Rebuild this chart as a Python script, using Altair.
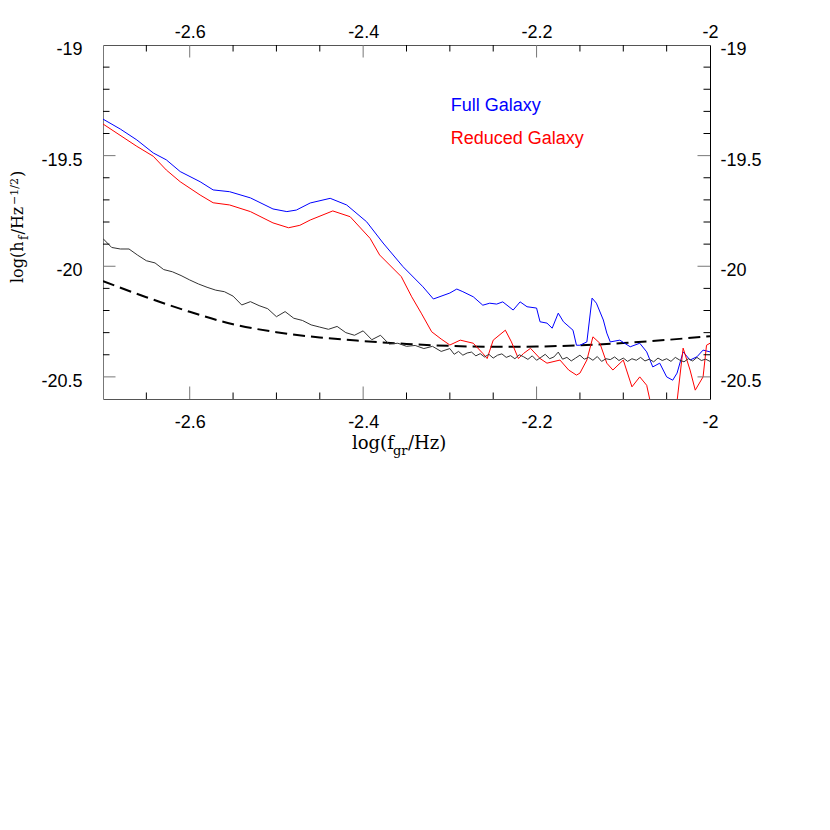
import altair as alt
import pandas as pd

# ---------------- data ----------------
full_x = [-2.700, -2.680, -2.661, -2.642, -2.627, -2.611, -2.588, -2.573, -2.554, -2.530,
          -2.504, -2.488, -2.477, -2.461, -2.438, -2.419, -2.396, -2.377, -2.354, -2.331,
          -2.319, -2.300, -2.292, -2.285, -2.273, -2.262, -2.254, -2.246, -2.239, -2.227,
          -2.219, -2.211, -2.200, -2.196, -2.188, -2.182, -2.175, -2.169, -2.158, -2.154,
          -2.150, -2.142, -2.136, -2.131, -2.123, -2.119, -2.115, -2.104, -2.092, -2.081,
          -2.073, -2.066, -2.058, -2.050, -2.043, -2.038, -2.031, -2.023, -2.015, -2.008,
          -2.000]
full_y = [-19.335, -19.380, -19.429, -19.488, -19.519, -19.572, -19.618, -19.655, -19.663, -19.691,
          -19.741, -19.753, -19.746, -19.714, -19.693, -19.723, -19.799, -19.895, -20.002, -20.093,
          -20.148, -20.121, -20.103, -20.115, -20.138, -20.176, -20.167, -20.171, -20.161, -20.198,
          -20.161, -20.183, -20.189, -20.251, -20.257, -20.280, -20.212, -20.251, -20.289, -20.357,
          -20.357, -20.342, -20.144, -20.167, -20.243, -20.302, -20.342, -20.334, -20.364, -20.348,
          -20.387, -20.455, -20.438, -20.500, -20.515, -20.483, -20.387, -20.424, -20.409, -20.379,
          -20.387]

red_x = [-2.700, -2.661, -2.642, -2.627, -2.611, -2.588, -2.573, -2.554, -2.530, -2.504,
         -2.486, -2.473, -2.461, -2.435, -2.415, -2.392, -2.381, -2.356, -2.344, -2.333,
         -2.321, -2.310, -2.300, -2.288, -2.273, -2.262, -2.257, -2.250, -2.236, -2.229,
         -2.221, -2.215, -2.207, -2.196, -2.188, -2.173, -2.163, -2.154, -2.150, -2.142,
         -2.135, -2.127, -2.119, -2.112, -2.100, -2.090, -2.081, -2.073, -2.069, -2.060,
         -2.045, -2.038, -2.031, -2.023, -2.017, -2.008, -2.004, -2.000]
red_y = [-19.357, -19.458, -19.503, -19.565, -19.618, -19.678, -19.713, -19.723, -19.753, -19.804,
         -19.826, -19.815, -19.791, -19.750, -19.776, -19.874, -19.949, -20.047, -20.138, -20.212,
         -20.296, -20.329, -20.356, -20.334, -20.348, -20.394, -20.417, -20.334, -20.289, -20.342,
         -20.417, -20.394, -20.371, -20.417, -20.438, -20.424, -20.469, -20.492, -20.483, -20.424,
         -20.319, -20.348, -20.438, -20.469, -20.424, -20.545, -20.500, -20.538, -20.610, -20.690,
         -20.670, -20.610, -20.370, -20.469, -20.560, -20.500, -20.357, -20.348]

noise_x = [-2.70, -2.69, -2.68, -2.67, -2.66, -2.65, -2.64, -2.63, -2.62, -2.61,
           -2.60, -2.59, -2.58, -2.57, -2.56, -2.55, -2.54, -2.53, -2.52, -2.51,
           -2.50, -2.49, -2.48, -2.47, -2.46, -2.45, -2.44, -2.43, -2.42, -2.41,
           -2.40, -2.39, -2.38, -2.37, -2.36, -2.35, -2.34, -2.33, -2.32, -2.31,
           -2.300, -2.295, -2.290, -2.285, -2.280, -2.275, -2.270, -2.265, -2.260, -2.255,
           -2.250, -2.245, -2.240, -2.235, -2.230, -2.225, -2.220, -2.215, -2.210, -2.205,
           -2.200, -2.195, -2.190, -2.185, -2.180, -2.175, -2.170, -2.165, -2.160, -2.155,
           -2.150, -2.145, -2.140, -2.135, -2.130, -2.125, -2.120, -2.115, -2.110, -2.105,
           -2.100, -2.095, -2.090, -2.085, -2.080, -2.075, -2.070, -2.065, -2.060, -2.055,
           -2.050, -2.045, -2.040, -2.035, -2.030, -2.025, -2.020, -2.015, -2.010, -2.005,
           -2.000]
noise_y = [-19.875, -19.915, -19.922, -19.922, -19.950, -19.975, -19.985, -20.015, -20.025, -20.042,
           -20.062, -20.080, -20.095, -20.108, -20.115, -20.135, -20.175, -20.160, -20.178, -20.192,
           -20.228, -20.205, -20.235, -20.245, -20.265, -20.275, -20.285, -20.272, -20.300, -20.312,
           -20.292, -20.332, -20.312, -20.352, -20.348, -20.362, -20.358, -20.372, -20.362, -20.385,
           -20.372, -20.398, -20.385, -20.402, -20.392, -20.388, -20.405, -20.395, -20.410, -20.398,
           -20.415, -20.402, -20.396, -20.412, -20.404, -20.418, -20.400, -20.409, -20.421, -20.405,
           -20.425, -20.412, -20.398, -20.418, -20.410, -20.388, -20.420, -20.412, -20.428, -20.415,
           -20.402, -20.420, -20.412, -20.425, -20.408, -20.430, -20.418, -20.422, -20.410, -20.426,
           -20.415, -20.430, -20.418, -20.425, -20.412, -20.428, -20.420, -20.432, -20.415, -20.426,
           -20.418, -20.430, -20.412, -20.424, -20.432, -20.418, -20.428, -20.412, -20.426, -20.420,
           -20.430]

dash_x = [-2.70, -2.65, -2.60, -2.55, -2.50, -2.45, -2.40, -2.35, -2.30, -2.25,
          -2.20, -2.15, -2.10, -2.05, -2.00]
dash_y = [-20.067, -20.140, -20.206, -20.262, -20.298, -20.322, -20.338, -20.351, -20.360, -20.364,
          -20.363, -20.357, -20.347, -20.333, -20.316]

x_labels = [-2.6, -2.4, -2.2, -2.0]
y_labels = [-20.5, -20.0, -19.5, -19.0]
x_major = [-2.6, -2.4, -2.2]
x_minor = [-2.65, -2.55, -2.5, -2.45, -2.35, -2.3, -2.25, -2.15, -2.1, -2.05]
y_major = [-20.5, -20.0, -19.5]
y_minor = [-20.4, -20.3, -20.2, -20.1, -19.9, -19.8, -19.7, -19.6, -19.4, -19.3, -19.2, -19.1]

annot_text = ["Full Galaxy", "Reduced Galaxy"]
annot_x = [-2.299, -2.299]
annot_y = [-19.298, -19.449]
annot_color = ["#0000ff", "#ff0000"]

# ---------------- layout ----------------
W, H = 607, 354
MAJ, MIN = 12.5, 6.5
LABEL_FONT = "Liberation Sans"
TITLE_FONT = "DejaVu Serif"

xs = alt.Scale(domain=[-2.7, -2.0], nice=False, zero=False)
ys = alt.Scale(domain=[-20.6, -19.0], nice=False, zero=False)

def make_axis(orient, values, pad, dom_color, offset=0):
    kw = dict(orient=orient, values=values, labelExpr="'' + datum.value",
              ticks=False, tickSize=0, grid=False, domainColor=dom_color, domainWidth=1,
              labelFont=LABEL_FONT, labelFontSize=18, labelColor="black",
              labelPadding=pad, labelFlush=False, labelOverlap=False, title=None)
    if offset:
        kw["labelOffset"] = offset
    return alt.Axis(**kw)

lines_df = pd.concat([
    pd.DataFrame({"x": full_x, "y": full_y, "s": "Full"}),
    pd.DataFrame({"x": red_x, "y": red_y, "s": "Reduced"}),
    pd.DataFrame({"x": noise_x, "y": noise_y, "s": "Noise"}),
])

dash = alt.Chart(pd.DataFrame({"x": dash_x, "y": dash_y})).mark_line(
    color="black", strokeWidth=2, strokeDash=[12, 6], interpolate="monotone", clip=True
).encode(
    x=alt.X("x:Q", scale=xs, axis=make_axis("top", x_labels, 4, "#555")),
    y=alt.Y("y:Q", scale=ys, axis=make_axis("right", y_labels, 10, "black", 4.5)),
)

lines = alt.Chart(lines_df).mark_line(strokeWidth=1, clip=True).encode(
    x=alt.X("x:Q", scale=xs, axis=make_axis("bottom", x_labels, 14, "#555")),
    y=alt.Y("y:Q", scale=ys, axis=make_axis("left", y_labels, 21, "#777", 4.5)),
    color=alt.Color("s:N", scale=alt.Scale(domain=["Full", "Reduced", "Noise"],
                                           range=["#0000ff", "#ff0000", "#333333"]), legend=None),
)

def xticks(vals, length, color, top):
    c = alt.Chart(pd.DataFrame({"v": vals})).mark_rule(color=color, strokeWidth=1)
    if top:
        return c.encode(x=alt.X("v:Q", scale=xs, axis=None), y=alt.value(0), y2=alt.value(length))
    return c.encode(x=alt.X("v:Q", scale=xs, axis=None), y=alt.value(H), y2=alt.value(H - length))

def yticks(vals, length, color, left):
    c = alt.Chart(pd.DataFrame({"v": vals})).mark_rule(color=color, strokeWidth=1)
    if left:
        return c.encode(y=alt.Y("v:Q", scale=ys, axis=None), x=alt.value(0), x2=alt.value(length))
    return c.encode(y=alt.Y("v:Q", scale=ys, axis=None), x=alt.value(W), x2=alt.value(W - length))

ticks = [
    xticks(x_major, MAJ, "#777", True), xticks(x_minor, MIN, "black", True),
    xticks(x_major, MAJ, "#777", False), xticks(x_minor, MIN, "black", False),
    yticks(y_major, MAJ, "#777", True), yticks(y_minor, MIN, "black", True),
    yticks(y_major, MAJ, "#777", False), yticks(y_minor, MIN, "black", False),
]

annot = alt.Chart(pd.DataFrame({"x": annot_x, "y": annot_y, "t": annot_text, "c": annot_color})).mark_text(
    align="left", baseline="alphabetic", font=LABEL_FONT, fontSize=18
).encode(
    x=alt.X("x:Q", scale=xs, axis=None),
    y=alt.Y("y:Q", scale=ys, axis=None),
    text="t:N",
    color=alt.Color("c:N", scale=None),
)

one = pd.DataFrame({"a": [0]})

def piece(text, x, y, size, angle=0):
    kw = dict(text=text, align="left", baseline="alphabetic", font=TITLE_FONT,
              fontSize=size, color="black")
    if angle:
        kw["angle"] = angle
    return alt.Chart(one).mark_text(**kw).encode(x=alt.value(x), y=alt.value(y))

title_pieces = [
    # x title: log(f_gr/Hz)
    piece("log(f", 249, 404, 18),
    piece("gr", 290, 410, 13),
    piece("/Hz)", 305, 404, 18),
    # y title: log(h_f/Hz^{-1/2})  (rotated, reading upward)
    piece("log(h", -80, 238, 16, 270),
    piece("f", -75, 195, 12, 270),
    piece("/Hz", -80, 189.5, 16, 270),
    piece("\u22121/2", -85, 160, 11, 270),
    piece(")", -80, 132, 16, 270),
]

chart = alt.layer(
    dash, lines, *ticks, annot, *title_pieces
).resolve_axis(
    x="independent", y="independent"
).properties(
    width=W, height=H,
    autosize=alt.AutoSizeParams(type="none"),
    padding={"left": 95, "top": 37, "right": 110, "bottom": 380},
).configure_view(stroke=None)

chart.save("out.html", embed_options={"renderer": "svg", "actions": False})
